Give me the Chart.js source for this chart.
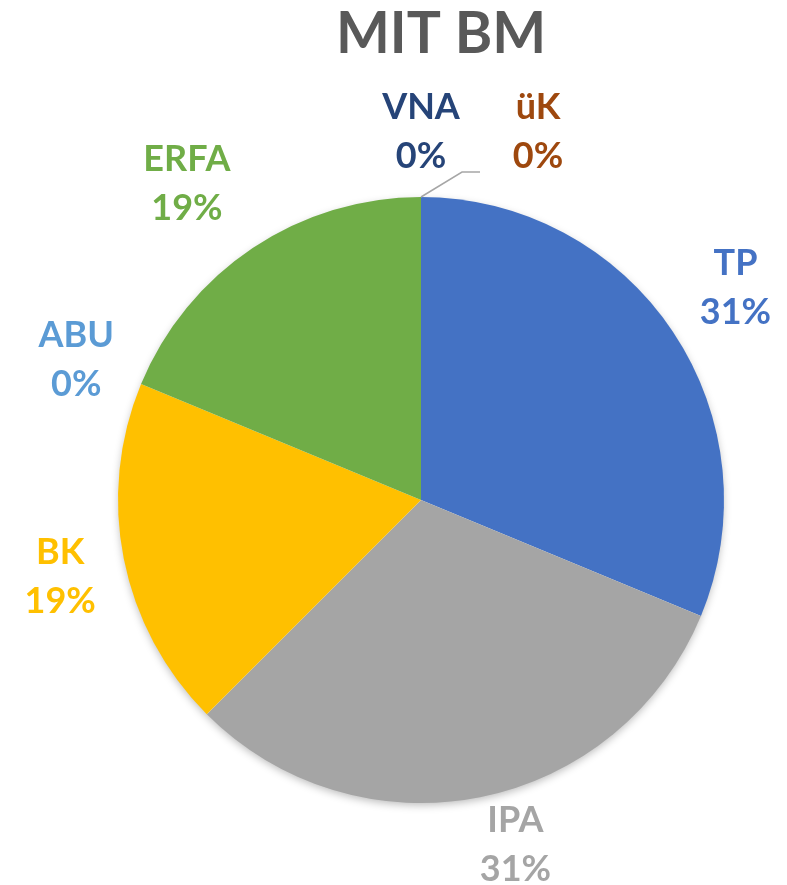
<!DOCTYPE html>
<html lang="de">
<head>
    <meta charset="UTF-8">
    <title>MIT BM</title>
    <script src="https://cdn.jsdelivr.net/npm/chart.js@4.4.1/dist/chart.umd.min.js"></script>
    <style>
        html, body {
            margin: 0;
            padding: 0;
            background: #ffffff;
        }
        .chart-box {
            position: relative;
            width: 787px;
            height: 885px;
        }
    </style>
</head>
<body>
    <div class="chart-box">
        <canvas id="pieChart"></canvas>
    </div>

    <script>
        // values (percent shares 31/31/19/0/19/0/0)
        const categories = ['TP', 'IPA', 'BK', 'ABU', 'ERFA', 'VNA', 'üK'];
        const counts = [5, 5, 3, 0, 3, 0, 0];
        const sliceColors = ['#4472C4', '#A5A5A5', '#FFC000', '#5B9BD5', '#70AD47', '#264478', '#9E480E'];
        const chartTitle = 'MIT BM';

        const FONT = 'Lato, "Open Sans", sans-serif';

        // soft drop shadow under the whole pie, like the office chart
        const pieShadow = {
            id: 'pieShadow',
            beforeDatasetsDraw(chart) {
                const arc = chart.getDatasetMeta(0).data[0];
                if (!arc) return;
                const ctx = chart.ctx;
                ctx.save();
                ctx.shadowColor = 'rgba(0, 0, 0, 0.28)';
                ctx.shadowBlur = 9;
                ctx.shadowOffsetY = 3;
                ctx.fillStyle = '#ffffff';
                ctx.beginPath();
                ctx.arc(arc.x, arc.y, arc.outerRadius - 1, 0, Math.PI * 2);
                ctx.fill();
                ctx.restore();
            }
        };

        // title drawn by hand so it can sit a bit right of the pie centre
        const titlePlugin = {
            id: 'titleText',
            afterDraw(chart, args, opts) {
                const ctx = chart.ctx;
                ctx.save();
                ctx.font = 'bold 57px ' + FONT;
                ctx.fillStyle = '#595959';
                ctx.textAlign = 'center';
                ctx.textBaseline = 'alphabetic';
                ctx.fillText(opts.text, opts.x, opts.y);
                ctx.restore();
            }
        };

        // outside-end data labels: name on top, percent below
        const outsideLabels = {
            id: 'outsideLabels',
            afterDatasetsDraw(chart, args, opts) {
                const meta = chart.getDatasetMeta(0);
                const data = chart.data.datasets[0].data;
                const total = data.reduce((a, b) => a + b, 0);
                const ctx = chart.ctx;
                ctx.save();
                ctx.font = 'bold 36px ' + FONT;
                ctx.textAlign = 'center';
                ctx.textBaseline = 'alphabetic';
                meta.data.forEach((arc, i) => {
                    const mid = (arc.startAngle + arc.endAngle) / 2;
                    const d = arc.outerRadius + opts.distance;
                    const nudge = opts.nudge[i] || [0, 0];
                    const lx = arc.x + Math.cos(mid) * d + nudge[0];
                    const ly = arc.y + Math.sin(mid) * d + nudge[1];
                    const pct = Math.round(data[i] / total * 100) + '%';

                    if (opts.leader.includes(i)) {
                        const sx = arc.x + Math.cos(mid) * arc.outerRadius;
                        const sy = arc.y + Math.sin(mid) * arc.outerRadius;
                        ctx.strokeStyle = '#A6A6A6';
                        ctx.lineWidth = 1.5;
                        ctx.beginPath();
                        ctx.moveTo(sx, sy);
                        ctx.lineTo(lx - 76, ly + 42);
                        ctx.lineTo(lx - 58, ly + 42);
                        ctx.stroke();
                    }

                    ctx.fillStyle = sliceColors[i];
                    ctx.fillText(chart.data.labels[i], lx, ly - 11);
                    ctx.fillText(pct, lx, ly + 38);
                });
                ctx.restore();
            }
        };

        const ctx = document.getElementById('pieChart').getContext('2d');
        const chart = new Chart(ctx, {
            type: 'pie',
            data: {
                labels: categories,
                datasets: [{
                    data: counts,
                    backgroundColor: sliceColors,
                    borderWidth: 0,
                    hoverOffset: 0
                }]
            },
            options: {
                responsive: true,
                maintainAspectRatio: false,
                animation: false,
                layout: {
                    padding: { top: 197, bottom: 82, left: 100, right: 45 }
                },
                plugins: {
                    legend: { display: false },
                    tooltip: { enabled: false },
                    titleText: { text: chartTitle, x: 441, y: 53 },
                    outsideLabels: {
                        distance: 68,
                        leader: [6],
                        nudge: {
                            0: [6, -8],
                            1: [22, -21],
                            2: [3, 3],
                            3: [-2, 0],
                            4: [-28, -10],
                            5: [0, 1],
                            6: [117, 1]
                        }
                    }
                }
            },
            plugins: [pieShadow, outsideLabels, titlePlugin]
        });
    </script>
</body>
</html>
